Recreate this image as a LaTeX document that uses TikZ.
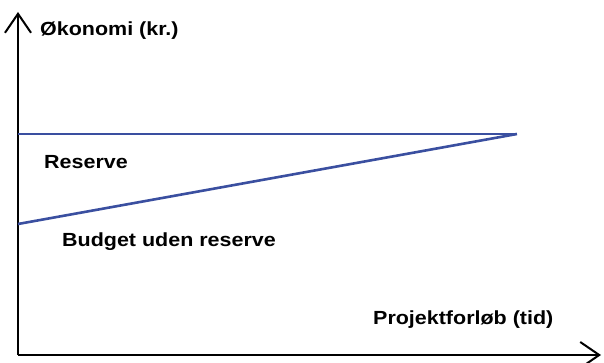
\documentclass[tikz,border=0pt]{standalone}
\usepackage{fontspec}
\setmainfont{Liberation Sans}[FakeStretch=1.13]
\usetikzlibrary{arrows.meta}
\definecolor{lineblue}{HTML}{3A4FA0}
\tikzset{
  axis/.style={line width=2pt, -{Straight Barb[length=19pt,width=26pt,line width=2pt]}},
  bline/.style={line width=2.6pt, lineblue},
  lbl/.style={font=\fontsize{19}{21}\selectfont\bfseries, anchor=west, inner sep=0pt}
}
\begin{document}
\begin{tikzpicture}[x=1pt,y=-1pt]
\useasboundingbox (0,0) rectangle (604,363);
\coordinate (O) at (18,355);
\coordinate (Ytop) at (18,12);
\coordinate (Xend) at (601,355);
\coordinate (A) at (18,134);
\coordinate (B) at (517,134);
\coordinate (C) at (18,224);
\draw[axis] (O) -- (Ytop);
\draw[axis] (O) -- (Xend);
\draw[bline] (A) -- (B);
\draw[bline] (C) -- (B);
\node[lbl] (yl) at (40,31) {Økonomi (kr.)};
\node[lbl] (res) at (44,162) {Reserve};
\node[lbl] (bud) at (62,242) {Budget uden reserve};
\node[lbl] (xl) at (373,320) {Projektforløb (tid)};
\end{tikzpicture}
\end{document}
